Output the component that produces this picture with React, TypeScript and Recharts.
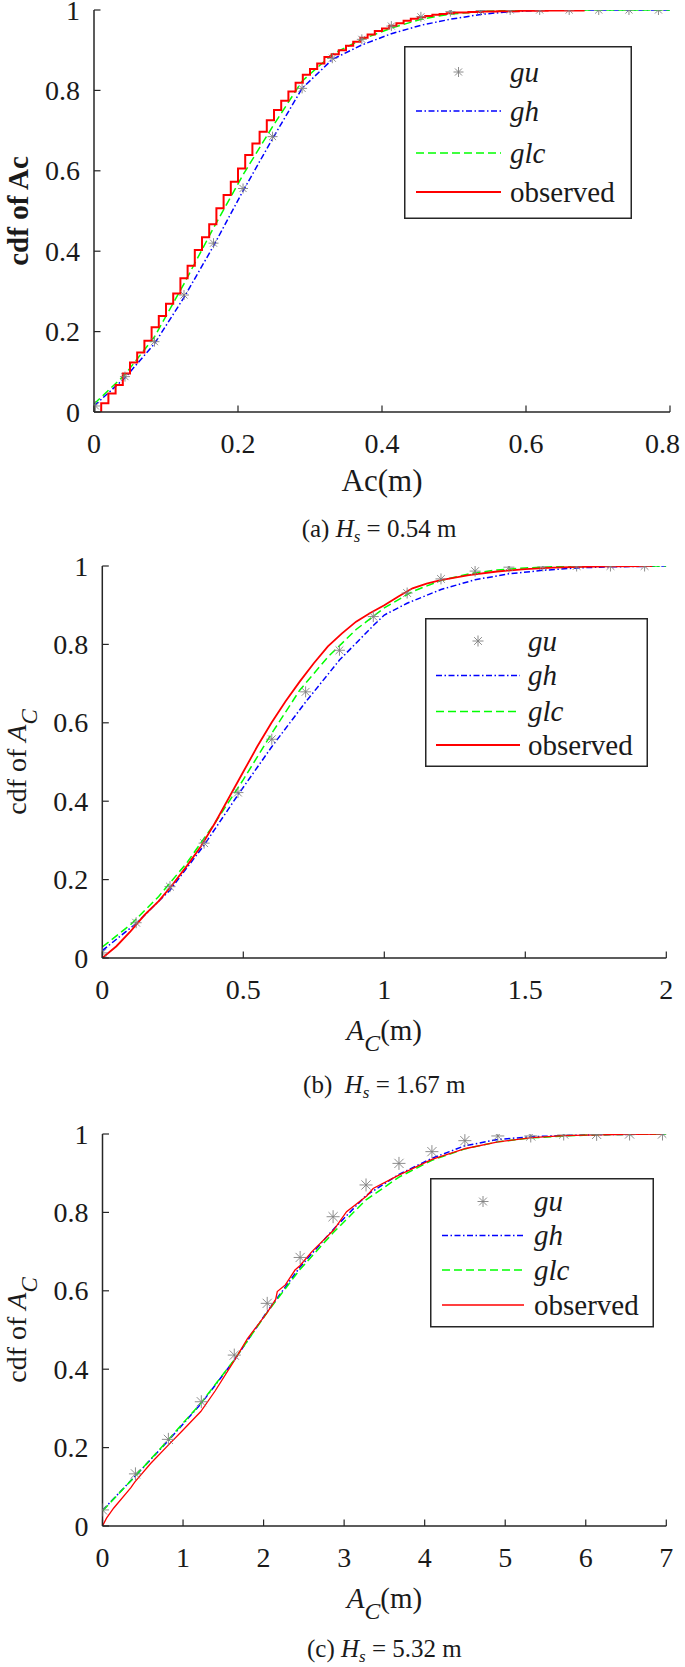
import React from 'react';
import { ComposedChart, Line, Scatter, XAxis, YAxis, Legend } from 'recharts';

const FONT = '"Liberation Serif", "Times New Roman", Times, serif';
const AXIS = '#262626';
const TEXT = '#1a1a1a';
const GRAY = '#808080';
const BLUE = '#0000ff';
const GREEN = '#00ff00';
const RED = '#ff0000';
const TICK_LEN = 6.5;
const PAGE_W = 685;

const Y_TICKS = [0, 0.2, 0.4, 0.6, 0.8, 1];

// ---------- (a) Hs = 0.54 m ----------
const A_X_TICKS = [0, 0.2, 0.4, 0.6, 0.8];
const A_GU_X = [0.002, 0.043, 0.084, 0.125, 0.166, 0.207, 0.248, 0.289, 0.331, 0.372, 0.413, 0.454, 0.495, 0.537, 0.578, 0.619, 0.66, 0.701, 0.743, 0.784];
const A_GU_Y = [0.015, 0.088, 0.175, 0.291, 0.42, 0.556, 0.685, 0.805, 0.88, 0.927, 0.96, 0.983, 0.996, 0.999, 1, 1, 1, 1, 1, 1];
const A_GH_X = [0, 0.043, 0.084, 0.125, 0.166, 0.207, 0.248, 0.289, 0.331, 0.372, 0.413, 0.454, 0.495, 0.537, 0.578, 0.619, 0.66, 0.8];
const A_GH_Y = [0.015, 0.085, 0.17, 0.285, 0.413, 0.55, 0.68, 0.805, 0.877, 0.913, 0.941, 0.962, 0.977, 0.989, 0.996, 0.999, 1, 1];
const A_GLC_X = [0, 0.043, 0.084, 0.125, 0.166, 0.207, 0.248, 0.289, 0.331, 0.372, 0.413, 0.454, 0.495, 0.537, 0.578, 0.619, 0.8];
const A_GLC_Y = [0.02, 0.093, 0.187, 0.319, 0.458, 0.59, 0.71, 0.823, 0.89, 0.927, 0.955, 0.977, 0.99, 0.996, 0.999, 1, 1];
const A_OBS_X = [0.01, 0.01, 0.02, 0.03, 0.04, 0.05, 0.06, 0.07, 0.08, 0.09, 0.1, 0.11, 0.12, 0.13, 0.14, 0.15, 0.16, 0.17, 0.18, 0.19, 0.2, 0.21, 0.22, 0.23, 0.24, 0.25, 0.26, 0.27, 0.28, 0.29, 0.3, 0.31, 0.32, 0.33, 0.34, 0.35, 0.36, 0.37, 0.38, 0.39, 0.4, 0.41, 0.42, 0.43, 0.44, 0.45, 0.46, 0.47, 0.48, 0.49, 0.5, 0.52, 0.54, 0.56, 0.59, 0.63, 0.68];
const A_OBS_Y = [0, 0.022, 0.046, 0.067, 0.096, 0.123, 0.148, 0.177, 0.211, 0.239, 0.269, 0.295, 0.333, 0.364, 0.403, 0.435, 0.467, 0.507, 0.54, 0.573, 0.606, 0.639, 0.668, 0.697, 0.726, 0.751, 0.774, 0.797, 0.819, 0.839, 0.853, 0.867, 0.883, 0.89, 0.9, 0.911, 0.921, 0.931, 0.939, 0.948, 0.954, 0.961, 0.967, 0.973, 0.978, 0.982, 0.985, 0.988, 0.99, 0.992, 0.994, 0.995, 0.996, 0.997, 0.998, 0.999, 1];

// ---------- (b) Hs = 1.67 m ----------
const B_X_TICKS = [0, 0.5, 1, 1.5, 2];
const B_GU_X = [0, 0.12, 0.24, 0.361, 0.481, 0.601, 0.721, 0.841, 0.961, 1.081, 1.201, 1.322, 1.442, 1.562, 1.682, 1.802, 1.923];
const B_GU_Y = [0.013, 0.09, 0.182, 0.293, 0.422, 0.558, 0.679, 0.785, 0.871, 0.931, 0.967, 0.987, 0.997, 1, 1, 1, 1];
const B_GH_X = [0, 0.12, 0.24, 0.361, 0.481, 0.601, 0.721, 0.841, 0.961, 1.0, 1.081, 1.201, 1.322, 1.442, 1.562, 1.682, 1.802, 1.923, 2.0];
const B_GH_Y = [0.019, 0.088, 0.173, 0.288, 0.416, 0.539, 0.653, 0.76, 0.848, 0.875, 0.905, 0.94, 0.965, 0.98, 0.989, 0.995, 0.998, 0.999, 1];
const B_GLC_X = [0, 0.1, 0.2, 0.3, 0.4, 0.5, 0.6, 0.7, 0.8, 0.9, 1.0, 1.1, 1.2, 1.3, 1.4, 1.5, 1.6, 1.7, 2.0];
const B_GLC_Y = [0.028, 0.085, 0.157, 0.243, 0.345, 0.455, 0.572, 0.683, 0.768, 0.838, 0.893, 0.935, 0.963, 0.98, 0.99, 0.995, 0.998, 0.999, 1];
const B_OBS_X = [0, 0.05, 0.1, 0.15, 0.2, 0.25, 0.3, 0.35, 0.4, 0.45, 0.5, 0.55, 0.6, 0.65, 0.7, 0.75, 0.8, 0.85, 0.9, 0.95, 1.0, 1.05, 1.1, 1.15, 1.2, 1.3, 1.4, 1.5, 1.6, 1.7, 1.8, 1.95];
const B_OBS_Y = [0, 0.03, 0.068, 0.11, 0.145, 0.188, 0.235, 0.285, 0.345, 0.41, 0.475, 0.54, 0.6, 0.655, 0.705, 0.752, 0.795, 0.828, 0.858, 0.88, 0.9, 0.922, 0.943, 0.955, 0.964, 0.977, 0.986, 0.992, 0.996, 0.998, 0.999, 1];

// ---------- (c) Hs = 5.32 m ----------
const C_X_TICKS = [0, 1, 2, 3, 4, 5, 6, 7];
const C_GU_X = [0, 0.409, 0.818, 1.227, 1.636, 2.045, 2.454, 2.863, 3.272, 3.681, 4.09, 4.499, 4.908, 5.317, 5.726, 6.135, 6.544, 6.953];
const C_GU_Y = [0.041, 0.133, 0.221, 0.317, 0.436, 0.568, 0.685, 0.789, 0.87, 0.925, 0.955, 0.983, 0.995, 0.995, 1, 0.999, 1, 1];
const C_GH_X = [0, 0.409, 0.818, 1.227, 1.636, 2.045, 2.454, 2.863, 3.272, 3.681, 4.09, 4.499, 4.908, 5.317, 5.726, 6.135, 6.544, 6.953, 7.0];
const C_GH_Y = [0.04, 0.128, 0.218, 0.313, 0.423, 0.547, 0.661, 0.756, 0.843, 0.897, 0.938, 0.97, 0.986, 0.993, 0.996, 0.998, 0.999, 1, 1];
const C_GLC_X = [0, 0.409, 0.818, 1.227, 1.636, 2.045, 2.454, 2.863, 3.272, 3.681, 4.09, 4.499, 4.908, 5.317, 5.726, 6.135, 6.544, 6.953, 7.0];
const C_GLC_Y = [0.038, 0.128, 0.22, 0.315, 0.424, 0.545, 0.655, 0.748, 0.832, 0.89, 0.933, 0.962, 0.98, 0.99, 0.995, 0.998, 0.999, 1, 1];
const C_OBS_X = [0, 0.05, 0.14, 0.35, 0.4, 0.6, 0.82, 1.0, 1.22, 1.4, 1.64, 1.8, 2.04, 2.15, 2.17, 2.27, 2.39, 2.45, 2.6, 2.87, 3.03, 3.28, 3.36, 3.68, 4.09, 4.51, 4.91, 5.33, 5.73, 6.14, 6.56, 6.96];
const C_OBS_Y = [0, 0.02, 0.046, 0.097, 0.112, 0.16, 0.207, 0.245, 0.292, 0.345, 0.423, 0.478, 0.543, 0.578, 0.598, 0.615, 0.653, 0.664, 0.7, 0.755, 0.802, 0.842, 0.861, 0.895, 0.935, 0.963, 0.98, 0.991, 0.996, 0.998, 0.999, 1];

type Pt = { x: number; y: number };
const zip = (xs: number[], ys: number[]): Pt[] => xs.map((x, i) => ({ x, y: ys[i] }));

function Asterisk({ cx, cy, r, sw = 0.9 }: { cx: number; cy: number; r: number; sw?: number }) {
  if (cx == null || cy == null || isNaN(cx) || isNaN(cy)) return null;
  const d = r * 0.7071;
  return (
    <g stroke={GRAY} strokeWidth={sw} fill="none">
      <line x1={cx - r} y1={cy} x2={cx + r} y2={cy} />
      <line x1={cx} y1={cy - r} x2={cx} y2={cy + r} />
      <line x1={cx - d} y1={cy - d} x2={cx + d} y2={cy + d} />
      <line x1={cx - d} y1={cy + d} x2={cx + d} y2={cy - d} />
    </g>
  );
}

const fmt = (v: number) => String(v);

const BottomTick = (p: any) => {
  const label = fmt(p.payload.value);
  const halfW = label.length * 7.2;
  const tx = Math.min(p.x, PAGE_W - 1 - halfW);
  return (
    <g>
      <line x1={p.x} x2={p.x} y1={p.y} y2={p.y - TICK_LEN} stroke={AXIS} strokeWidth={1.2} />
      <text x={tx} y={p.y + 41} textAnchor="middle" fontFamily={FONT} fontSize={28} fill={TEXT}>
        {label}
      </text>
    </g>
  );
};
const TopTick = (p: any) => (
  <line x1={p.x} x2={p.x} y1={p.y} y2={p.y + TICK_LEN} stroke={AXIS} strokeWidth={1.2} />
);
const LeftTick = (p: any) => (
  <g>
    <line x1={p.x} x2={p.x + TICK_LEN} y1={p.y} y2={p.y} stroke={AXIS} strokeWidth={1.2} />
    <text x={p.x - 14} y={p.y + 9.5} textAnchor="end" fontFamily={FONT} fontSize={28} fill={TEXT}>
      {fmt(p.payload.value)}
    </text>
  </g>
);
const RightTick = (p: any) => (
  <line x1={p.x} x2={p.x - TICK_LEN} y1={p.y} y2={p.y} stroke={AXIS} strokeWidth={1.2} />
);

type LegendCfg = { left: number; top: number; w: number; h: number; rows: number[]; lx1: number; lx2: number; tx: number; r: number };

function LegendBox({ cfg, lw, obsW }: { cfg: LegendCfg; lw: number; obsW: number }) {
  const { w, h, rows, lx1, lx2, tx, r } = cfg;
  const t = (i: number) => rows[i] + 9.5;
  return (
    <svg width={w} height={h} style={{ display: 'block', overflow: 'visible' }}>
      <rect x={0.75} y={0.75} width={w - 1.5} height={h - 1.5} fill="#ffffff" stroke={AXIS} strokeWidth={1.5} />
      <Asterisk cx={(lx1 + lx2) / 2} cy={rows[0]} r={r} />
      <line x1={lx1} x2={lx2} y1={rows[1]} y2={rows[1]} stroke={BLUE} strokeWidth={lw} strokeDasharray="6 2.5 1.5 2.5" />
      <line x1={lx1} x2={lx2} y1={rows[2]} y2={rows[2]} stroke={GREEN} strokeWidth={lw} strokeDasharray="8 4" />
      <line x1={lx1} x2={lx2} y1={rows[3]} y2={rows[3]} stroke={RED} strokeWidth={obsW} />
      <g fontFamily={FONT} fontSize={29} fill={TEXT}>
        <text x={tx} y={t(0)} fontStyle="italic">gu</text>
        <text x={tx} y={t(1)} fontStyle="italic">gh</text>
        <text x={tx} y={t(2)} fontStyle="italic">glc</text>
        <text x={tx} y={t(3)}>observed</text>
      </g>
    </svg>
  );
}

type PanelCfg = {
  top: number;
  height: number;
  margin: { top: number; right: number; bottom: number; left: number };
  xMax: number;
  xTicks: number[];
  gu: Pt[];
  gh: Pt[];
  glc: Pt[];
  obs: Pt[];
  obsStep: boolean;
  lw: number;
  obsW: number;
  markerR: number;
  legend: LegendCfg;
  xTitle: (vb: any) => React.ReactNode;
  yTitle: (vb: any) => React.ReactNode;
};

function Panel({ cfg }: { cfg: PanelCfg }) {
  const axisLine = { stroke: AXIS, strokeWidth: 1.5 };
  const vbOf = (p: any) => (p && p.viewBox) || {};
  return (
    <div style={{ position: 'absolute', left: 0, top: cfg.top, width: PAGE_W, height: cfg.height }}>
      <ComposedChart width={PAGE_W} height={cfg.height} margin={cfg.margin} style={{ overflow: 'visible' }}>
        <XAxis
          xAxisId="b"
          dataKey="x"
          type="number"
          orientation="bottom"
          domain={[0, cfg.xMax]}
          ticks={cfg.xTicks}
          interval={0}
          allowDataOverflow
          height={30}
          tickSize={0}
          tickMargin={0}
          tickLine={false}
          axisLine={axisLine}
          tick={BottomTick}
          label={(p: any) => cfg.xTitle(vbOf(p))}
        />
        <XAxis
          xAxisId="t"
          dataKey="x"
          type="number"
          orientation="top"
          domain={[0, cfg.xMax]}
          ticks={cfg.xTicks}
          interval={0}
          allowDataOverflow
          height={0}
          tickSize={0}
          tickMargin={0}
          tickLine={false}
          axisLine={axisLine}
          tick={TopTick}
        />
        <YAxis
          yAxisId="l"
          type="number"
          orientation="left"
          domain={[0, 1]}
          ticks={Y_TICKS}
          interval={0}
          allowDataOverflow
          width={60}
          tickSize={0}
          tickMargin={0}
          tickLine={false}
          axisLine={axisLine}
          tick={LeftTick}
          label={(p: any) => cfg.yTitle(vbOf(p))}
        />
        <YAxis
          yAxisId="r"
          type="number"
          orientation="right"
          domain={[0, 1]}
          ticks={Y_TICKS}
          interval={0}
          allowDataOverflow
          width={0}
          tickSize={0}
          tickMargin={0}
          tickLine={false}
          axisLine={axisLine}
          tick={RightTick}
        />
        <Scatter
          name="gu"
          xAxisId="b"
          yAxisId="l"
          data={cfg.gu}
          dataKey="y"
          isAnimationActive={false}
          shape={(p: any) => <Asterisk cx={p.cx} cy={p.cy} r={cfg.markerR} />}
        />
        <Line
          name="gh"
          xAxisId="b"
          yAxisId="l"
          data={cfg.gh}
          dataKey="y"
          type="linear"
          stroke={BLUE}
          strokeWidth={cfg.lw}
          strokeDasharray="6 2.5 1.5 2.5"
          dot={false}
          activeDot={false}
          isAnimationActive={false}
        />
        <Line
          name="glc"
          xAxisId="b"
          yAxisId="l"
          data={cfg.glc}
          dataKey="y"
          type="linear"
          stroke={GREEN}
          strokeWidth={cfg.lw}
          strokeDasharray="8 4"
          dot={false}
          activeDot={false}
          isAnimationActive={false}
        />
        <Line
          name="observed"
          xAxisId="b"
          yAxisId="l"
          data={cfg.obs}
          dataKey="y"
          type={cfg.obsStep ? 'stepAfter' : 'linear'}
          stroke={RED}
          strokeWidth={cfg.obsW}
          dot={false}
          activeDot={false}
          isAnimationActive={false}
        />
        <Legend
          layout="horizontal"
          verticalAlign="middle"
          align="center"
          wrapperStyle={{ left: cfg.legend.left, top: cfg.legend.top, width: cfg.legend.w, height: cfg.legend.h, margin: 0, padding: 0 }}
          content={() => <LegendBox cfg={cfg.legend} lw={cfg.lw} obsW={cfg.obsW} />}
        />
      </ComposedChart>
    </div>
  );
}

const centerX = (vb: any, fallback: number) => (vb && typeof vb.x === 'number' ? vb.x + vb.width / 2 : fallback);
const baseY = (vb: any, fallback: number) => (vb && typeof vb.y === 'number' ? vb.y : fallback);
const midY = (vb: any, fallback: number) => (vb && typeof vb.y === 'number' ? vb.y + vb.height / 2 : fallback);

const ACTitle = ({ size }: { size: number }) => (
  <>
    <tspan fontStyle="italic">A</tspan>
    <tspan fontStyle="italic" fontSize={size * 0.82} dy={size * 0.38}>C</tspan>
  </>
);

const panelA: PanelCfg = {
  top: 0,
  height: 556,
  margin: { top: 10, right: 15, bottom: 114, left: 34 },
  xMax: 0.8,
  xTicks: A_X_TICKS,
  gu: zip(A_GU_X, A_GU_Y),
  gh: zip(A_GH_X, A_GH_Y),
  glc: zip(A_GLC_X, A_GLC_Y),
  obs: zip(A_OBS_X, A_OBS_Y),
  obsStep: true,
  lw: 1.5,
  obsW: 2,
  markerR: 5,
  legend: { left: 404, top: 46, w: 228, h: 173, rows: [26, 65, 107, 146], lx1: 12, lx2: 97, tx: 106, r: 5 },
  xTitle: (vb) => {
    const cx = centerX(vb, 382);
    const y = baseY(vb, 412);
    return (
      <g fontFamily={FONT} fill={TEXT}>
        <text x={cx} y={y + 79} textAnchor="middle" fontSize={31}>Ac(m)</text>
        <text x={cx - 3} y={y + 125} textAnchor="middle" fontSize={25} style={{ whiteSpace: 'pre' }}>
          (a) <tspan fontStyle="italic">H</tspan>
          <tspan fontStyle="italic" fontSize={17} dy={5}>s</tspan>
          <tspan dy={-5}> = 0.54 m</tspan>
        </text>
      </g>
    );
  },
  yTitle: (vb) => {
    const cy = midY(vb, 211);
    return (
      <text x={28} y={cy} transform={`rotate(-90, 28, ${cy})`} textAnchor="middle" fontFamily={FONT} fontSize={29} fontWeight="bold" fill={TEXT}>
        cdf of Ac
      </text>
    );
  },
};

const makeAcX = (caption: string, value: string, fallbackY: number, capDy: number) => (vb: any) => {
  const cx = centerX(vb, 384);
  const y = baseY(vb, fallbackY);
  return (
    <g fontFamily={FONT} fill={TEXT}>
      <text x={cx} y={y + 82} textAnchor="middle" fontSize={29}>
        <ACTitle size={29} />
        <tspan dy={-29 * 0.38}>(m)</tspan>
      </text>
      <text x={cx} y={y + capDy} textAnchor="middle" fontSize={25} style={{ whiteSpace: 'pre' }}>
        {caption}
        <tspan fontStyle="italic">H</tspan>
        <tspan fontStyle="italic" fontSize={17} dy={5}>s</tspan>
        <tspan dy={-5}>{value}</tspan>
      </text>
    </g>
  );
};

const makeAcY = (fallbackY: number) => (vb: any) => {
  const cy = midY(vb, fallbackY);
  return (
    <text x={26} y={cy} transform={`rotate(-90, 26, ${cy})`} textAnchor="middle" fontFamily={FONT} fontSize={28} fill={TEXT}>
      cdf of <ACTitle size={28} />
    </text>
  );
};

// panel (b): plot area 566..958 on the page
const panelB: PanelCfg = {
  top: 536,
  height: 580,
  margin: { top: 30, right: 18.7, bottom: 128, left: 42.3 },
  xMax: 2,
  xTicks: B_X_TICKS,
  gu: zip(B_GU_X, B_GU_Y),
  gh: zip(B_GH_X, B_GH_Y),
  glc: zip(B_GLC_X, B_GLC_Y),
  obs: zip(B_OBS_X, B_OBS_Y),
  obsStep: false,
  lw: 1.5,
  obsW: 1.8,
  markerR: 5.5,
  legend: { left: 425, top: 82, w: 223, h: 149, rows: [23, 57.5, 93.5, 127], lx1: 11, lx2: 95, tx: 103, r: 5.5 },
  xTitle: makeAcX('(b)  ', ' = 1.67 m', 422, 135),
  yTitle: makeAcY(226),
};

// panel (c): plot area 1134..1526 on the page
const panelC: PanelCfg = {
  top: 1110,
  height: 557,
  margin: { top: 24, right: 18.7, bottom: 111, left: 42.5 },
  xMax: 7,
  xTicks: C_X_TICKS,
  gu: zip(C_GU_X, C_GU_Y),
  gh: zip(C_GH_X, C_GH_Y),
  glc: zip(C_GLC_X, C_GLC_Y),
  obs: zip(C_OBS_X, C_OBS_Y),
  obsStep: false,
  lw: 1.5,
  obsW: 1.3,
  markerR: 6.5,
  legend: { left: 430, top: 67.5, w: 224, h: 149.5, rows: [23.5, 57.5, 92, 127], lx1: 12, lx2: 94, tx: 104, r: 5.5 },
  xTitle: makeAcX('(c) ', ' = 5.32 m', 416, 131),
  yTitle: makeAcY(220),
};

export default function App() {
  return (
    <div style={{ position: 'absolute', left: 0, top: 0, width: PAGE_W, height: 1667, background: '#ffffff', overflow: 'hidden' }}>
      <Panel cfg={panelA} />
      <Panel cfg={panelB} />
      <Panel cfg={panelC} />
    </div>
  );
}
